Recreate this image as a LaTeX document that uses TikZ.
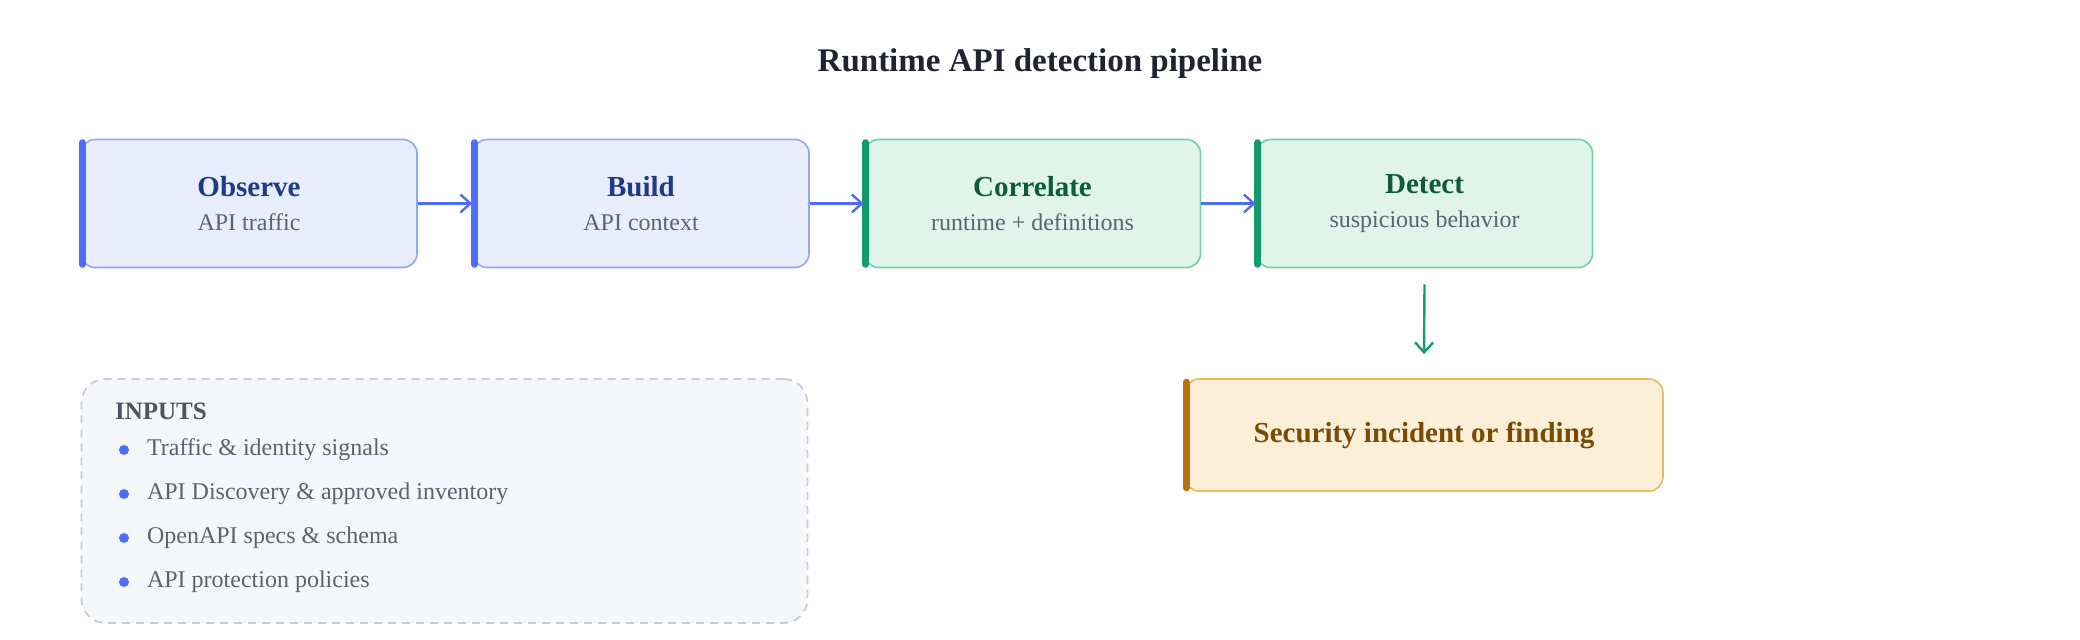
\documentclass[tikz,border=0pt]{standalone}
\usepackage{fontspec}
\setmainfont{Liberation Serif}
\usetikzlibrary{positioning, arrows.meta}
\definecolor{bluefill}{HTML}{E8EEFD}
\definecolor{blueline}{HTML}{8FA8F5}
\definecolor{bluebar}{HTML}{4F6EF7}
\definecolor{bluetext}{HTML}{1E3A8A}
\definecolor{greenfill}{HTML}{E1F4EC}
\definecolor{greenline}{HTML}{6FD1A5}
\definecolor{greenbar}{HTML}{159A6E}
\definecolor{greentext}{HTML}{0F5B3E}
\definecolor{orangefill}{HTML}{FBEFD8}
\definecolor{orangeline}{HTML}{E9B95A}
\definecolor{orangebar}{HTML}{B7720F}
\definecolor{orangetext}{HTML}{7A4A05}
\definecolor{subtext}{HTML}{5B6270}
\definecolor{infill}{HTML}{F6F7FB}
\definecolor{inline}{HTML}{C5CCE0}
\definecolor{intext}{HTML}{4B5563}
\tikzset{
  stage/.style={draw, line width=0.8pt, rounded corners=7pt, minimum width=168pt, minimum height=64pt, align=center},
  bluestage/.style={stage, fill=bluefill, draw=blueline},
  greenstage/.style={stage, fill=greenfill, draw=greenline},
  flow/.style={-{Straight Barb[length=5pt,width=9pt]}, line width=1.2pt},
  item/.style={anchor=west, font=\fontsize{12}{14}\selectfont, text=subtext}
}
\newcommand{\stagetext}[3]{{\fontsize{14.5}{17}\selectfont\bfseries\color{#1}#2}\\[5pt]{\fontsize{12}{14}\selectfont\color{subtext}#3}}
\begin{document}
\begin{tikzpicture}[x=0.5pt, y=-0.5pt]
   \useasboundingbox (0,0) rectangle (2080,640);
   \node (title) at (1040,64) {\fontsize{16.5}{20}\selectfont\bfseries\color[HTML]{1F2430}Runtime API detection pipeline};
   % pipeline stages
   \node[bluestage] (observe) at (249,203.5) {\stagetext{bluetext}{Observe}{API traffic}};
   \node[bluestage] (build) at (641,203.5) {\stagetext{bluetext}{Build}{API context}};
   \node[greenstage] (correlate) at (1032.5,203.5) {\stagetext{greentext}{Correlate}{runtime + definitions}};
   \node[greenstage] (detect) at (1424.5,203.5) {\stagetext{greentext}{Detect}{suspicious behavior}};
   \node[stage, fill=orangefill, draw=orangeline, minimum width=239pt, minimum height=56pt] (finding) at (1424,435)
      {\fontsize{14.5}{17}\selectfont\bfseries\color{orangetext}Security incident or finding};
   % accent bars
   \foreach \n/\c in {observe/bluebar, build/bluebar, correlate/greenbar, detect/greenbar, finding/orangebar}
      \draw[\c, line width=3.5pt, line cap=round] ([xshift=1pt,yshift=-2pt]\n.north west) -- ([xshift=1pt,yshift=2pt]\n.south west);
   \draw[flow, bluebar] (observe) -- (build);
   \draw[flow, bluebar] (build) -- (correlate);
   \draw[flow, bluebar] (correlate) -- (detect);
   \draw[flow, greenbar] ([yshift=-8pt]detect.south) -- ([yshift=12pt]finding.north);
   % inputs panel
   \node[draw=inline, dashed, dash pattern=on 4pt off 3pt, line width=0.9pt, fill=infill, rounded corners=12pt,
         minimum width=363pt, minimum height=122pt] (inputs) at (444.5,501) {};
   \node[anchor=west, font=\fontsize{12.5}{14}\selectfont\bfseries, text=intext] (intitle) at (108,411) {INPUTS};
   \foreach \t [count=\i] in {Traffic \& identity signals, API Discovery \& approved inventory, OpenAPI specs \& schema, API protection policies} {
      \fill[bluebar] (124,406+44*\i) circle (5);
      \node[item] (in\i) at (140,406+44*\i) {\t};
   }
\end{tikzpicture}
\end{document}
